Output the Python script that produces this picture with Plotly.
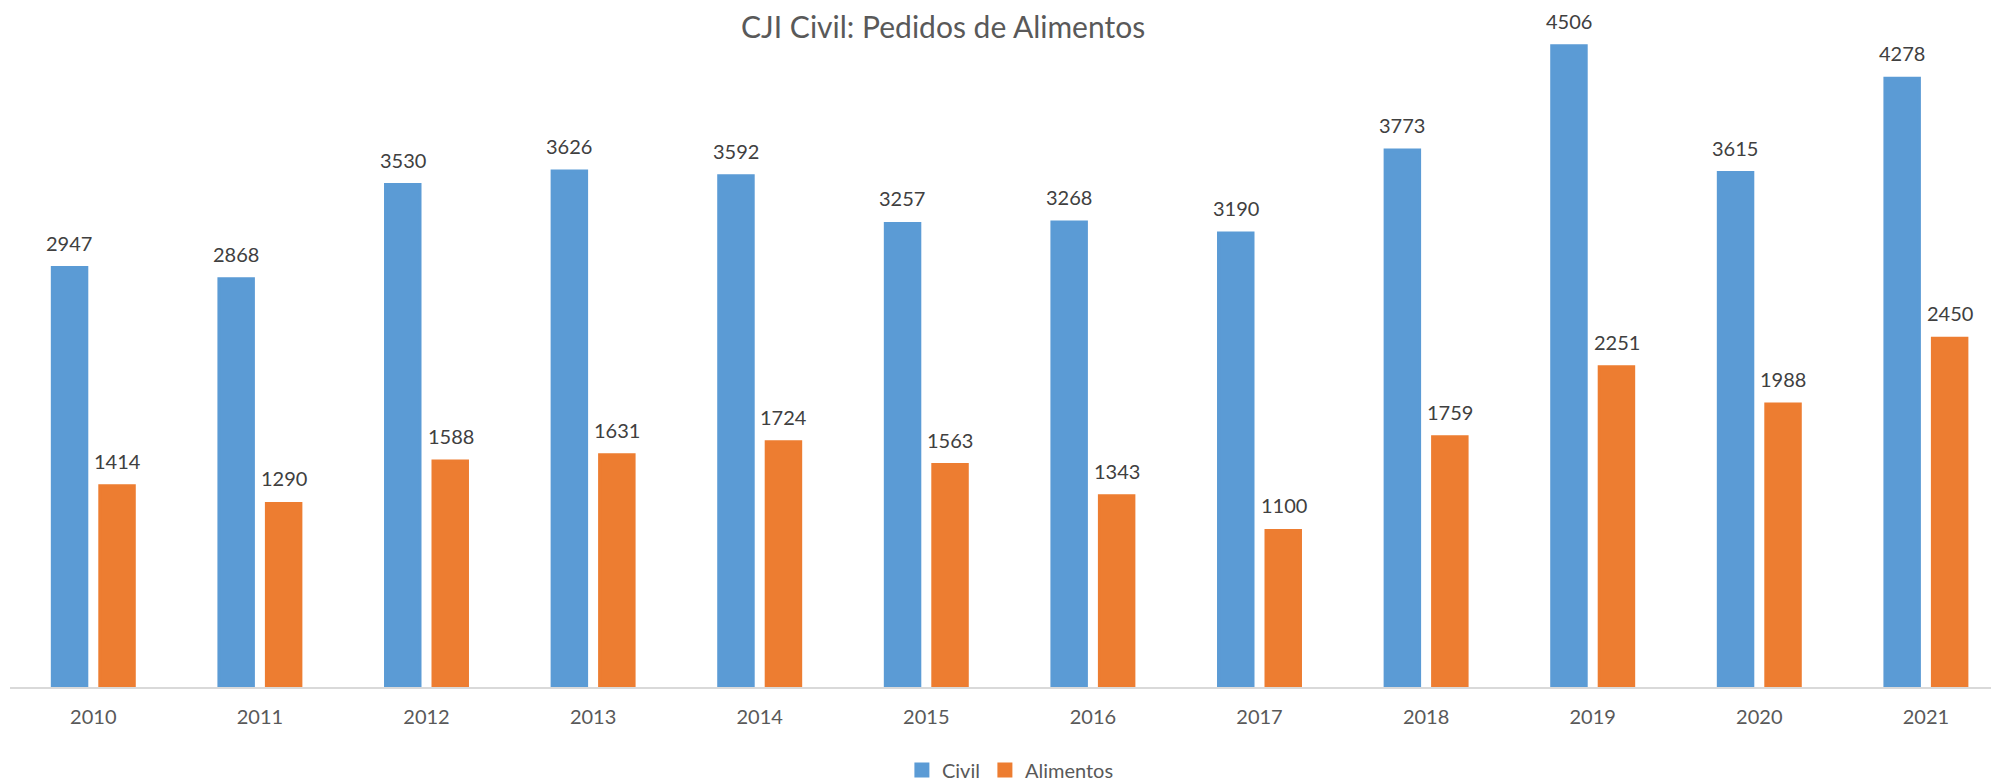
import plotly.graph_objects as go

years = ["2010", "2011", "2012", "2013", "2014", "2015", "2016", "2017", "2018", "2019", "2020", "2021"]
civil = [2947, 2868, 3530, 3626, 3592, 3257, 3268, 3190, 3773, 4506, 3615, 4278]
alimentos = [1414, 1290, 1588, 1631, 1724, 1563, 1343, 1100, 1759, 2251, 1988, 2450]
series_names = ["Civil", "Alimentos"]
title_text = "CJI Civil: Pedidos de Alimentos"

BLUE = "#5B9BD5"
ORANGE = "#ED7D31"
FONT = "Lato"

W, H = 1991, 784
top_px = 40
base_px = 687

fig = go.Figure()
fig.add_trace(go.Bar(x=years, y=civil, name=series_names[0],
                     marker=dict(color=BLUE, line=dict(width=3, color=BLUE))))
fig.add_trace(go.Bar(x=years, y=alimentos, name=series_names[1],
                     marker=dict(color=ORANGE, line=dict(width=3, color=ORANGE))))

annotations = []
for vals, shift in ((civil, -24), (alimentos, 24)):
    for i, v in enumerate(vals):
        annotations.append(dict(
            x=i, y=v, xref="x", yref="y", text=str(v), showarrow=False,
            xshift=shift, yshift=25, yanchor="middle", xanchor="center",
            font=dict(family=FONT, size=20, color="#404040"),
        ))

ymax = (base_px - top_px) / ((base_px - 45.7) / 4506)
region_h = H - top_px
y_dom_low = (H - base_px) / region_h

fig.update_layout(
    width=W, height=H,
    margin=dict(l=10, r=0, t=top_px, b=0, autoexpand=False),
    paper_bgcolor="white", plot_bgcolor="white",
    barmode="group", bargap=0.43, bargroupgap=0.274,
    title=dict(text=title_text, x=0.4737, xanchor="center", y=1 - 27 / H, yanchor="middle",
               font=dict(family=FONT, size=30, color="#595959")),
    xaxis=dict(type="category", range=[-0.5, -0.5 + 1981 / 166.6], showline=True, linecolor="#D9D9D9",
               linewidth=1.5, showgrid=False, zeroline=False, ticks="", ticklabelstandoff=11,
               tickfont=dict(family=FONT, size=20, color="#595959"), automargin=False),
    yaxis=dict(range=[0, ymax], domain=[y_dom_low, 1], visible=False, showgrid=False, zeroline=False),
    legend=dict(orientation="h", x=0.505, xanchor="center", y=(H - 770) / region_h,
                yanchor="middle", font=dict(family=FONT, size=20, color="#595959"),
                itemwidth=30, bgcolor="rgba(0,0,0,0)"),
    annotations=annotations,
    showlegend=True,
)

fig.write_html("out.html", config={"displayModeBar": False},
               post_script="document.body.style.margin='0';document.body.style.overflow='hidden';")
